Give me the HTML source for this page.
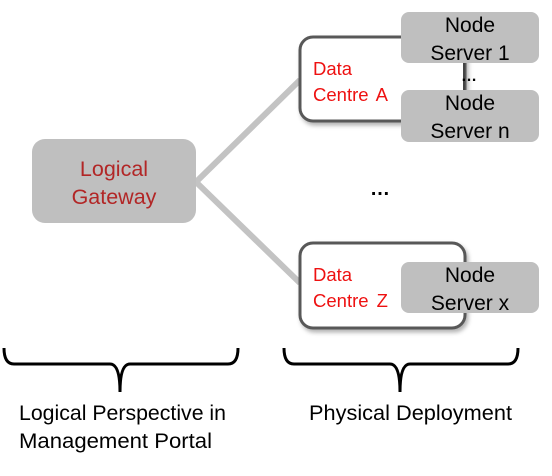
<!DOCTYPE html>
<html><head><meta charset="utf-8"><style>
body{margin:0;background:#fff;}
svg text{font-family:"Liberation Sans",sans-serif;}
</style></head><body>
<svg width="552" height="471" viewBox="0 0 552 471" xmlns="http://www.w3.org/2000/svg">
<defs><filter id="sh" x="-10%" y="-10%" width="130%" height="130%"><feDropShadow dx="2" dy="3" stdDeviation="2" flood-color="#000" flood-opacity="0.3"/></filter></defs>
<line x1="196" y1="182" x2="300" y2="80" stroke="#c3c3c3" stroke-width="6"/>
<line x1="196" y1="182" x2="300" y2="283" stroke="#c3c3c3" stroke-width="6"/>
<rect x="32" y="139" width="164" height="84" rx="13" fill="#bfbfbf"/>
<text x="114" y="176" text-anchor="middle" font-size="21.5" fill="#b22626">Logical</text>
<text x="114" y="204" text-anchor="middle" font-size="21.5" fill="#b22626">Gateway</text>
<rect x="300" y="37" width="165" height="84" rx="13" fill="#fff" stroke="#595959" stroke-width="3" filter="url(#sh)"/>
<rect x="300" y="243" width="165" height="85" rx="13" fill="#fff" stroke="#595959" stroke-width="3" filter="url(#sh)"/>
<text x="313" y="75" font-size="18.5" fill="#ee1111">Data</text>
<text x="313" y="101" font-size="18.5" fill="#ee1111" word-spacing="3">Centre A</text>
<text x="313" y="281" font-size="18.5" fill="#ee1111">Data</text>
<text x="313" y="307" font-size="18.5" fill="#ee1111" word-spacing="3">Centre Z</text>
<line x1="464" y1="62" x2="464" y2="91" stroke="#444" stroke-width="2"/>
<rect x="401" y="12" width="138" height="51" rx="8" fill="#bfbfbf"/>
<rect x="401" y="90" width="138" height="52" rx="8" fill="#bfbfbf"/>
<rect x="401" y="262" width="138" height="51" rx="8" fill="#bfbfbf"/>
<text x="470" y="32" text-anchor="middle" font-size="21">Node</text>
<text x="470" y="60" text-anchor="middle" font-size="21">Server 1</text>
<text x="470" y="110" text-anchor="middle" font-size="21">Node</text>
<text x="470" y="138" text-anchor="middle" font-size="21">Server n</text>
<text x="470" y="282" text-anchor="middle" font-size="21">Node</text>
<text x="470" y="310" text-anchor="middle" font-size="21">Server x</text>
<text x="469" y="81" text-anchor="middle" font-size="16" font-weight="bold">…</text>
<text x="380" y="195" text-anchor="middle" font-size="20" font-weight="bold">…</text>
<path d="M4 348 Q4 364 14 364 L110 364 Q120 364 120 392 Q120 364 130 364 L228 364 Q238 364 238 348" fill="none" stroke="#000" stroke-width="3"/>
<path d="M284 348 Q284 364 294 364 L390 364 Q400 364 400 392 Q400 364 410 364 L508 364 Q518 364 518 348" fill="none" stroke="#000" stroke-width="3"/>
<text x="19" y="420" font-size="21" textLength="207" lengthAdjust="spacingAndGlyphs">Logical Perspective in</text>
<text x="19" y="448" font-size="21" textLength="193" lengthAdjust="spacingAndGlyphs">Management Portal</text>
<text x="309" y="420" font-size="21" textLength="203" lengthAdjust="spacingAndGlyphs">Physical Deployment</text>
</svg>
</body></html>
